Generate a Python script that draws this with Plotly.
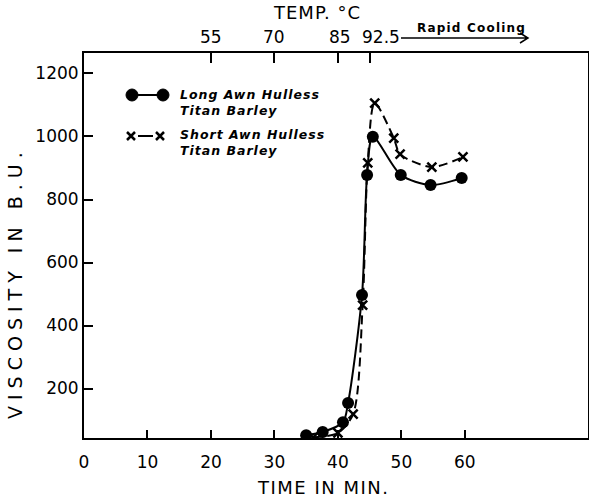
import plotly.graph_objects as go

# ---- data ----
long_time = [35.0, 37.6, 40.8, 41.6, 43.8, 44.6, 45.5, 49.9, 54.6, 59.5]
long_visc = [52, 62, 93, 154, 497, 878, 999, 878, 846, 868]

short_time = [36.1, 40.0, 42.4, 43.9, 44.7, 45.8, 48.8, 49.8, 54.8, 59.7]
short_visc = [45, 59, 119, 465, 916, 1106, 995, 944, 903, 935]

x_ticks = [0, 10, 20, 30, 40, 50, 60]
y_ticks = [200, 400, 600, 800, 1000, 1200]
temp_tick_times = [20, 30, 40, 45]
temp_tick_labels = ["55", "70", "85", "92.5"]
temp_label_shift = [0, 0, 2, 11]   # pixel nudges of the hand-lettered labels

W, H = 589, 499
L, R, T, B = 84, 1, 53, 61
PW, PH = W - L - R, H - T - B

def px(x, y):
    return (x - L) / PW, (H - B - y) / PH

FONT = "DejaVu Sans"

fig = go.Figure()

fig.add_trace(go.Scatter(
    x=long_time, y=long_visc, mode="lines+markers",
    line=dict(color="black", width=2, shape="spline", smoothing=0.8),
    marker=dict(symbol="circle", size=12, color="black"),
    name="Long Awn Hulless Titan Barley", showlegend=False,
))
fig.add_trace(go.Scatter(
    x=short_time, y=short_visc, mode="lines+markers",
    line=dict(color="black", width=2, dash="9px,5px", shape="spline", smoothing=0.8),
    marker=dict(symbol="x-thin", size=9, color="black", line=dict(width=2.5, color="black")),
    name="Short Awn Hulless Titan Barley", showlegend=False,
))
# carrier for the top temperature axis
fig.add_trace(go.Scatter(x=temp_tick_times, y=[None] * len(temp_tick_times),
                         xaxis="x2", mode="markers", showlegend=False, hoverinfo="skip"))

axis_common = dict(showgrid=False, zeroline=False, showline=True, linecolor="black",
                   linewidth=2, ticks="inside", tickcolor="black", tickwidth=1.5,
                   automargin=False, tickangle=0,
                   tickfont=dict(family=FONT, size=17, color="black"))

fig.update_layout(
    width=W, height=H, autosize=False,
    margin=dict(l=L, r=R, t=T, b=B, pad=0, autoexpand=False),
    plot_bgcolor="white", paper_bgcolor="white",
    xaxis=dict(range=[0, 79.4], tickvals=x_ticks, ticklen=8, ticklabelstandoff=8, **axis_common),
    xaxis2=dict(range=[0, 79.4], overlaying="x", side="top", anchor="y",
                tickvals=temp_tick_times, ticklen=10, showticklabels=False, **axis_common),
    yaxis=dict(range=[43, 1265], tickvals=y_ticks, ticklen=9, mirror=True, **axis_common),
)

# top temperature labels, placed on the top axis scale
for t, lab, sh in zip(temp_tick_times, temp_tick_labels, temp_label_shift):
    fig.add_annotation(text=lab, x=t, xref="x2", y=(H - B - 37) / PH, yref="paper",
                       xshift=sh, showarrow=False, xanchor="center", yanchor="middle",
                       font=dict(family=FONT, size=17, color="black"))

def ann(text, x, y, size, **kw):
    xp, yp = px(x, y)
    d = dict(text=text, x=xp, y=yp, xref="paper", yref="paper", showarrow=False,
             xanchor="center", yanchor="middle",
             font=dict(family=FONT, size=size, color="black"))
    d.update(kw)
    fig.add_annotation(**d)

ann('<span style="letter-spacing:1px">TEMP. °C</span>', 317, 12, 18)
ann('<b><span style="letter-spacing:1.2px">Rapid Cooling</span></b>', 471, 28, 12)
ann('<span style="letter-spacing:1.5px">TIME IN MIN.</span>', 323, 487, 18)
ann('<span style="letter-spacing:6px">VISCOSITY IN B.U.</span>', 15, 283, 19, textangle=-90)
ann('<b><i><span style="letter-spacing:1px">Long Awn Hulless<br>Titan Barley</span></i></b>',
    178, 102, 12.5, xanchor="left", align="left")
ann('<b><i><span style="letter-spacing:1px">Short Awn Hulless<br>Titan Barley</span></i></b>',
    178, 142, 12.5, xanchor="left", align="left")

def path_shape(pts_list, width=1.5, dash="solid"):
    segs = []
    for pts in pts_list:
        seg = ""
        for i, (x, y) in enumerate(pts):
            xp, yp = px(x, y)
            seg += ("M" if i == 0 else "L") + f"{xp:.5f},{yp:.5f} "
        segs.append(seg)
    fig.add_shape(type="path", path="".join(segs), xref="paper", yref="paper",
                  line=dict(color="black", width=width, dash=dash))

# Rapid cooling arrow
path_shape([[(401, 38), (528, 38)], [(520, 33), (528, 38), (520, 43)]], width=1.5)

# legend sample: circle - circle
path_shape([[(132, 95), (163, 95)]], width=2)
for cx in (132, 163):
    x0, y0 = px(cx - 6, 95 + 6)
    x1, y1 = px(cx + 6, 95 - 6)
    fig.add_shape(type="circle", x0=x0, y0=y0, x1=x1, y1=y1, xref="paper", yref="paper",
                  fillcolor="black", line=dict(color="black", width=1))

# legend sample: x - x
for cx in (131, 160):
    path_shape([[(cx - 4, 132), (cx + 4, 140)], [(cx - 4, 140), (cx + 4, 132)]], width=2.5)
path_shape([[(138, 136), (153, 136)]], width=2)

fig.write_html("out.html", config={"responsive": False, "displayModeBar": False},
               post_script="document.body.style.margin='0';document.body.style.overflow='hidden';")
